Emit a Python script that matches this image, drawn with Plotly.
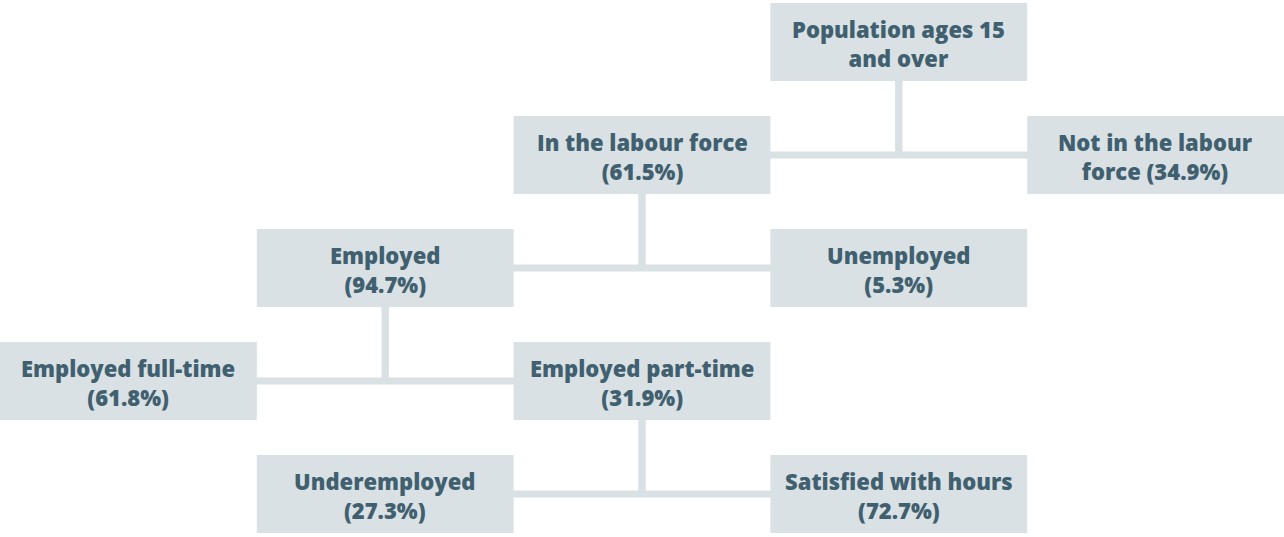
import plotly.graph_objects as go

# Node data
labels = [
    "Population ages 15<br>and over",
    "In the labour force<br>(61.5%)",
    "Not in the labour<br>force (34.9%)",
    "Employed<br>(94.7%)",
    "Unemployed<br>(5.3%)",
    "Employed full-time<br>(61.8%)",
    "Employed part-time<br>(31.9%)",
    "Underemployed<br>(27.3%)",
    "Satisfied with hours<br>(72.7%)",
]
cols = [3, 2, 4, 1, 3, 0, 2, 1, 3]
rows = [0, 1, 1, 2, 2, 3, 3, 4, 4]
parents = [None, 0, 0, 1, 1, 3, 3, 6, 6]

BOX = "#d9e1e5"
TXT = "#41606f"
PITCH = 113.0
TOP = 3 / PITCH
BOT = 81 / PITCH
MID = 42 / PITCH
LW = 7

fig = go.Figure()
shapes = []

# connectors
for i, p in enumerate(parents):
    if p is None:
        continue
    pc = cols[p] + 0.5
    shapes.append(dict(type="line", xref="x", yref="y", x0=pc, x1=pc,
                       y0=rows[p] + BOT, y1=rows[i] + MID,
                       line=dict(color=BOX, width=LW), layer="below"))
    shapes.append(dict(type="line", xref="x", yref="y", x0=pc, x1=cols[i] + 0.5,
                       y0=rows[i] + MID, y1=rows[i] + MID,
                       line=dict(color=BOX, width=LW), layer="below"))

# boxes
for i in range(len(labels)):
    shapes.append(dict(type="rect", xref="x", yref="y",
                       x0=cols[i], x1=cols[i] + 1,
                       y0=rows[i] + TOP, y1=rows[i] + BOT,
                       fillcolor=BOX, line=dict(width=0), layer="below"))

annotations = []
for i in range(len(labels)):
    annotations.append(dict(x=cols[i] + 0.5, y=rows[i] + (TOP + BOT) / 2 + 1 / PITCH,
                            xref="x", yref="y", text=labels[i],
                            showarrow=False, align="center",
                            font=dict(family="Open Sans", size=22, color=TXT, weight=800)))

fig.add_trace(go.Scatter(x=[0, 5], y=[0, 4.75], mode="markers",
                         marker=dict(opacity=0), hoverinfo="skip", showlegend=False))

fig.update_layout(
    width=1284, height=537,
    margin=dict(l=0, r=0, t=0, b=0),
    paper_bgcolor="white", plot_bgcolor="white",
    shapes=shapes, annotations=annotations,
    xaxis=dict(range=[0, 5], visible=False, fixedrange=True),
    yaxis=dict(range=[537 / PITCH, 0], visible=False, fixedrange=True),
    showlegend=False,
)

fig.write_html("out.html", config={"displayModeBar": False},
               post_script="document.body.style.margin='0';document.body.style.overflow='hidden';")
